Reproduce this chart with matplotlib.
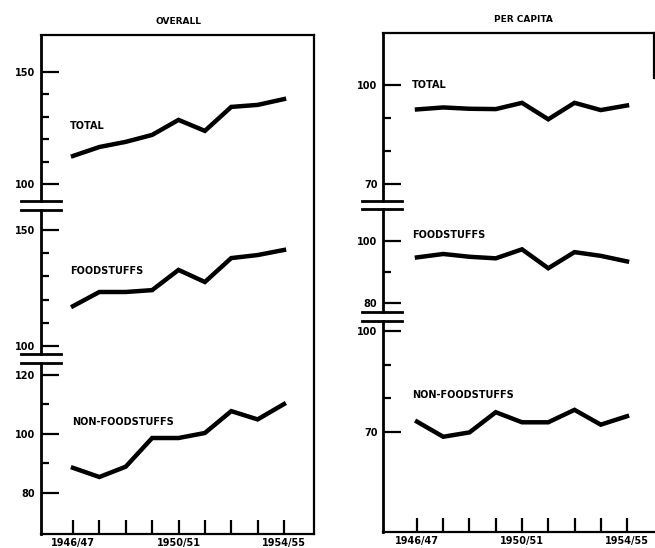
import matplotlib
matplotlib.use("Agg")
from matplotlib import pyplot as plt
from matplotlib.lines import Line2D

# index values, 1946/47 .. 1954/55
years = ['1946/47', '1947/48', '1948/49', '1949/50', '1950/51',
         '1951/52', '1952/53', '1953/54', '1954/55']
shown_years = ['1946/47', '1950/51', '1954/55']

overall_total = [112.5, 116.5, 118.8, 121.9, 128.6, 123.7, 134.4, 135.3, 137.9]
overall_food = [117.2, 123.3, 123.3, 124.1, 132.8, 127.6, 137.9, 139.2, 141.4]
overall_nonfood = [88.5, 85.4, 88.9, 98.6, 98.6, 100.3, 107.7, 104.9, 110.1]

percap_total = [92.6, 93.2, 92.8, 92.7, 94.6, 89.6, 94.6, 92.4, 93.8]
percap_food = [94.7, 95.8, 94.9, 94.4, 97.3, 91.2, 96.4, 95.2, 93.4]
percap_nonfood = [73.1, 68.6, 69.9, 75.9, 72.9, 72.9, 76.6, 72.2, 74.7]

W, H = 655, 548
fig = plt.figure(figsize=(W / 100, H / 100), dpi=100)
FONT = dict(family='DejaVu Sans', weight='bold', size=7)


def rect(x0, y0, x1, y1):
    # pixel box (y from top) -> figure fraction
    return [x0 / W, 1 - y1 / H, (x1 - x0) / W, (y1 - y0) / H]


def ftext(x, y, s, **kw):
    d = dict(FONT)
    d.update(kw)
    fig.text(x / W, 1 - y / H, s, **d)


def hline(x0, x1, y, lw=2.0):
    fig.add_artist(Line2D([x0 / W, x1 / W], [1 - y / H, 1 - y / H],
                          color='black', lw=lw, transform=fig.transFigure))


def segment(x0, x1, y0, y1, xlim, ylim, major, minor, values, bottom=False):
    ax = fig.add_axes(rect(x0, y0, x1, y1))
    ax.patch.set_alpha(0)
    for s in ['top', 'right']:
        ax.spines[s].set_visible(False)
    ax.spines['left'].set_linewidth(2)
    ax.spines['bottom'].set_visible(bottom)
    ax.spines['bottom'].set_linewidth(1.6)
    ax.set_xlim(*xlim)
    ax.set_ylim(*ylim)
    ax.set_yticks(major)
    ax.set_yticks(minor, minor=True)
    ax.set_yticklabels([str(v) for v in major], fontdict=FONT)
    ax.tick_params(axis='y', which='major', direction='in', length=13, width=1.6, pad=4)
    ax.tick_params(axis='y', which='minor', direction='in', length=6, width=1.6)
    if bottom:
        ax.set_xticks(range(len(years)))
        ax.set_xticklabels([y if y in shown_years else '' for y in years], fontdict=FONT)
        ax.tick_params(axis='x', direction='in', length=10, width=1.6, pad=3)
    else:
        ax.set_xticks([])
    ax.plot(range(len(values)), values, color='black', lw=3.2, solid_joinstyle='miter')
    return ax


def frame(x0, x1, y0, y1):
    ax = fig.add_axes(rect(x0, y0, x1, y1))
    ax.patch.set_alpha(0)
    ax.set_xticks([])
    ax.set_yticks([])
    ax.spines['left'].set_visible(False)
    ax.spines['bottom'].set_visible(False)
    for s in ['top', 'right']:
        ax.spines[s].set_linewidth(1.6)
    return ax


# ---- OVERALL ----
xl = (-(73 - 41) / 26.375, 8 + (314 - 284) / 26.375)
segment(41, 314, 35, 201, xl, (92.4, 166.5), [100, 150], [110, 120, 130, 140], overall_total)
segment(41, 314, 210, 354, xl, (96.6, 158.6), [100, 150], [110, 120, 130, 140], overall_food)
segment(41, 314, 363, 534, xl, (66.1, 124), [80, 100, 120], [90, 110], overall_nonfood, bottom=True)
frame(41, 314, 35, 534)
for y in [201, 210, 354, 363]:
    hline(21, 61, y)
ftext(178, 22, 'OVERALL', ha='center', va='center', size=6.5)
ftext(70, 126, 'TOTAL', va='center')
ftext(70, 271, 'FOODSTUFFS', va='center')
ftext(72, 422, 'NON-FOODSTUFFS', va='center')

# ---- PER CAPITA ----
xr = (-(417 - 383) / 26.25, 8 + (654 - 627) / 26.25)
segment(383, 654, 33, 201, xr, (64.8, 115.8), [70, 100], [80, 90], percap_total)
segment(383, 654, 209, 312, xr, (77.1, 110.3), [80, 100], [90], percap_food)
segment(383, 654, 321, 532, xr, (40.3, 103), [70, 100], [80, 90], percap_nonfood, bottom=True)
fr = frame(383, 654, 33, 532)
fr.spines['right'].set_visible(False)
fig.add_artist(Line2D([654 / W, 654 / W], [1 - 33 / H, 1 - 78 / H], color='black',
                      lw=1.6, transform=fig.transFigure))
for y in [201, 209, 312, 321]:
    hline(362, 402, y)
ftext(523, 20, 'PER CAPITA', ha='center', va='center', size=6.5)
ftext(412, 85, 'TOTAL', va='center')
ftext(412, 235, 'FOODSTUFFS', va='center')
ftext(412, 395, 'NON-FOODSTUFFS', va='center')

fig.savefig('out.png', dpi=100)
